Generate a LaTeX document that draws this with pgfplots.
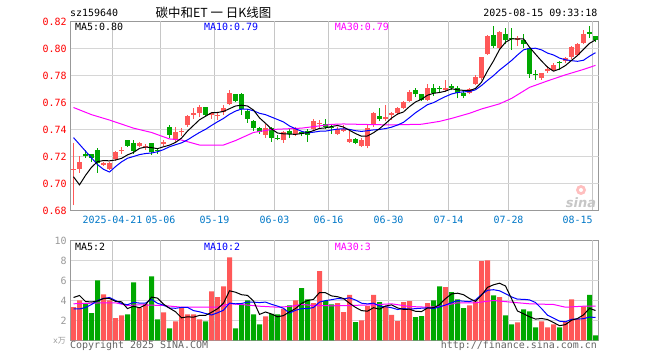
\documentclass[border=0pt]{standalone}
\usepackage{pgfplots}
\usepackage{pgfplotstable}
\pgfplotsset{compat=1.18}
\usepackage{fontspec}
\setmainfont{DejaVu Sans}
\setmonofont{DejaVu Sans Mono}
\newfontfamily\cjk{Noto Sans CJK SC}
\newcommand\tf{\ttfamily\fontsize{10}{12}\selectfont}
\definecolor{cred}{RGB}{255,88,88}
\definecolor{cgreen}{RGB}{0,168,0}
\definecolor{tickred}{RGB}{255,0,0}
\definecolor{tickblue}{RGB}{0,120,200}
\definecolor{bordergray}{RGB}{153,153,153}
\definecolor{vgridgray}{RGB}{198,198,198}
\definecolor{hgridgray}{RGB}{214,214,214}
\definecolor{ma10}{RGB}{0,0,255}
\definecolor{ma30}{RGB}{255,0,255}

% up (red) candles: x open high low close volume
\pgfplotstableread{
x o h l c v
0 0.710 0.730 0.684 0.711 3.33
1 0.711 0.720 0.708 0.716 4.00
5 0.714 0.716 0.713 0.715 4.60
6 0.711 0.716 0.710 0.715 4.00
7 0.718 0.724 0.717 0.723 2.23
8 0.724 0.727 0.722 0.725 2.50
11 0.728 0.731 0.727 0.730 3.23
12 0.727 0.729 0.725 0.728 3.67
15 0.729 0.732 0.728 0.731 2.80
17 0.733 0.742 0.731 0.738 1.90
18 0.738 0.741 0.735 0.739 3.33
19 0.743 0.751 0.742 0.750 2.60
20 0.751 0.756 0.748 0.752 2.60
21 0.752 0.758 0.749 0.757 2.10
23 0.751 0.753 0.748 0.752 4.90
24 0.750 0.752 0.747 0.751 4.33
25 0.753 0.758 0.751 0.756 5.40
26 0.759 0.769 0.758 0.767 8.30
32 0.736 0.744 0.734 0.741 2.40
35 0.732 0.739 0.730 0.738 3.17
37 0.737 0.742 0.735 0.740 4.00
40 0.740 0.748 0.739 0.746 3.73
41 0.744 0.747 0.741 0.745 6.93
44 0.737 0.742 0.736 0.740 3.73
45 0.739 0.743 0.738 0.740 2.83
46 0.731 0.739 0.730 0.733 4.57
48 0.728 0.734 0.727 0.732 2.00
49 0.728 0.743 0.726 0.741 3.43
50 0.744 0.753 0.742 0.752 4.57
52 0.748 0.758 0.746 0.749 3.40
53 0.751 0.753 0.747 0.752 2.57
54 0.752 0.757 0.751 0.756 1.93
55 0.756 0.761 0.755 0.760 3.83
56 0.761 0.769 0.760 0.768 3.93
59 0.762 0.774 0.761 0.771 3.73
62 0.769 0.777 0.768 0.771 5.33
66 0.767 0.771 0.766 0.770 3.50
67 0.774 0.780 0.773 0.779 3.90
68 0.778 0.794 0.777 0.794 7.93
69 0.796 0.810 0.795 0.809 8.00
71 0.800 0.813 0.799 0.812 4.33
74 0.806 0.809 0.802 0.808 1.80
78 0.778 0.782 0.777 0.782 1.90
79 0.783 0.787 0.782 0.785 1.30
80 0.784 0.789 0.783 0.788 1.60
82 0.791 0.794 0.789 0.793 1.83
83 0.794 0.802 0.792 0.801 4.10
84 0.795 0.804 0.795 0.803 2.17
85 0.804 0.814 0.803 0.811 3.40
}\up

% down (green) candles
\pgfplotstableread{
x o h l c v
2 0.722 0.725 0.719 0.720 3.67
3 0.722 0.722 0.716 0.719 2.73
4 0.725 0.726 0.708 0.715 6.00
9 0.732 0.732 0.727 0.728 2.60
10 0.730 0.732 0.722 0.724 5.80
13 0.730 0.730 0.721 0.723 6.40
14 0.725 0.726 0.722 0.724 2.10
16 0.742 0.743 0.734 0.736 1.20
22 0.757 0.757 0.750 0.751 1.90
27 0.766 0.766 0.760 0.761 1.20
28 0.766 0.767 0.751 0.755 3.67
29 0.754 0.755 0.745 0.748 4.00
30 0.746 0.747 0.739 0.741 2.60
31 0.741 0.742 0.737 0.738 1.60
33 0.741 0.742 0.731 0.734 2.67
34 0.734 0.736 0.732 0.733 2.60
36 0.739 0.740 0.734 0.737 3.50
38 0.738 0.739 0.735 0.737 5.23
39 0.739 0.740 0.731 0.736 4.10
42 0.744 0.748 0.740 0.742 3.93
43 0.742 0.743 0.737 0.741 3.60
47 0.733 0.734 0.729 0.730 1.83
51 0.750 0.756 0.746 0.748 3.83
57 0.769 0.771 0.764 0.766 2.33
58 0.766 0.766 0.761 0.762 2.43
60 0.771 0.774 0.765 0.767 4.00
61 0.771 0.772 0.768 0.770 5.40
63 0.772 0.774 0.769 0.771 4.83
64 0.771 0.772 0.763 0.767 4.10
65 0.767 0.769 0.763 0.765 3.23
70 0.810 0.817 0.800 0.802 4.50
72 0.811 0.815 0.803 0.806 2.50
73 0.808 0.815 0.799 0.807 1.60
75 0.806 0.811 0.800 0.803 3.10
76 0.800 0.801 0.778 0.781 2.90
77 0.781 0.784 0.777 0.780 1.30
81 0.790 0.791 0.784 0.789 1.30
86 0.812 0.817 0.808 0.811 4.57
87 0.809 0.809 0.805 0.806 0.50
}\dn

% price moving averages: x ma5 ma10
\pgfplotstableread{
x a b
0 0.7050 0.7340
1 0.6990 0.7290
2 0.7060 0.7240
3 0.7120 0.7190
4 0.7162 0.7140
5 0.7170 0.7105
6 0.7168 0.7085
7 0.7174 0.7125
8 0.7186 0.7160
9 0.7212 0.7187
10 0.7230 0.7200
11 0.7260 0.7214
12 0.7270 0.7222
13 0.7266 0.7226
14 0.7258 0.7235
15 0.7272 0.7251
16 0.7284 0.7272
17 0.7304 0.7287
18 0.7336 0.7301
19 0.7388 0.7323
20 0.7430 0.7351
21 0.7472 0.7378
22 0.7498 0.7401
23 0.7524 0.7430
24 0.7526 0.7457
25 0.7534 0.7482
26 0.7554 0.7513
27 0.7574 0.7536
28 0.7580 0.7552
29 0.7574 0.7550
30 0.7544 0.7539
31 0.7486 0.7520
32 0.7446 0.7510
33 0.7404 0.7492
34 0.7374 0.7474
35 0.7368 0.7456
36 0.7366 0.7426
37 0.7364 0.7405
38 0.7370 0.7387
39 0.7376 0.7375
40 0.7392 0.7380
41 0.7408 0.7387
42 0.7412 0.7388
43 0.7422 0.7396
44 0.7430 0.7403
45 0.7418 0.7405
46 0.7394 0.7401
47 0.7370 0.7391
48 0.7350 0.7386
49 0.7352 0.7391
50 0.7376 0.7397
51 0.7406 0.7400
52 0.7444 0.7407
53 0.7484 0.7417
54 0.7514 0.7433
55 0.7530 0.7453
56 0.7570 0.7488
57 0.7604 0.7524
58 0.7624 0.7554
59 0.7654 0.7584
60 0.7668 0.7599
61 0.7674 0.7622
62 0.7684 0.7644
63 0.7702 0.7663
64 0.7694 0.7674
65 0.7690 0.7679
66 0.7688 0.7681
67 0.7704 0.7694
68 0.7750 0.7726
69 0.7834 0.7764
70 0.7908 0.7799
71 0.7992 0.7840
72 0.8046 0.7875
73 0.8072 0.7911
74 0.8070 0.7952
75 0.8072 0.7990
76 0.8010 0.8001
77 0.7958 0.8002
78 0.7908 0.7990
79 0.7862 0.7966
80 0.7832 0.7952
81 0.7848 0.7929
82 0.7874 0.7916
83 0.7912 0.7910
84 0.7948 0.7905
85 0.7994 0.7913
86 0.8038 0.7943
87 0.8064 0.7969
}\pma

\pgfplotstableread{
x y
0 0.7563
3 0.7510
6 0.7470
10 0.7410
13 0.7378
16 0.7330
18 0.7322
21 0.7285
25 0.7285
27 0.7318
30 0.7378
33 0.7400
38 0.7410
43 0.7438
45 0.7441
50 0.7436
53 0.7434
58 0.7439
61 0.7460
63 0.7482
66 0.7520
68 0.7552
71 0.7590
73 0.7630
76 0.7712
79 0.7760
82 0.7805
85 0.7845
87 0.7875
}\pmathirty

% volume moving averages: x ma5 ma10
\pgfplotstableread{
x a b
0 4.30 3.15
1 4.50 3.15
2 3.90 3.30
3 3.85 3.60
4 3.95 4.00
5 4.20 4.20
6 4.20 4.30
7 3.91 4.00
8 3.87 3.70
9 3.19 3.57
10 3.43 3.82
11 3.27 3.74
12 3.56 3.74
13 4.34 4.11
14 4.24 3.72
15 3.64 3.54
16 3.23 3.25
17 2.88 3.22
18 2.27 3.31
19 2.37 3.31
20 2.33 2.99
21 2.51 2.87
22 2.51 2.70
23 2.82 2.55
24 3.17 2.77
25 3.73 3.03
26 4.97 3.74
27 4.83 3.67
28 4.58 3.70
29 4.51 3.84
30 3.95 3.84
31 2.61 3.79
32 2.85 3.84
33 2.65 3.62
34 2.37 3.44
35 2.49 3.22
36 2.87 2.74
37 3.19 3.02
38 3.70 3.18
39 4.00 3.19
40 4.11 3.30
41 4.80 3.84
42 4.78 3.99
43 4.46 4.08
44 4.38 4.19
45 4.20 4.16
46 3.73 4.27
47 3.31 4.05
48 2.99 3.73
49 2.93 3.66
50 3.28 3.74
51 3.13 3.43
52 3.45 3.38
53 3.56 3.28
54 3.26 3.10
55 3.11 3.20
56 3.13 3.13
57 2.92 3.19
58 2.89 3.23
59 3.25 3.26
60 3.28 3.20
61 3.58 3.36
62 4.18 3.55
63 4.66 3.78
64 4.73 3.99
65 4.58 3.93
66 4.20 3.89
67 3.91 4.05
68 4.53 4.60
69 5.31 5.02
70 5.57 5.08
71 5.73 4.97
72 5.45 4.68
73 4.19 4.36
74 2.95 4.13
75 2.67 4.12
76 2.38 4.06
77 2.14 3.80
78 2.20 3.20
79 2.10 2.53
80 1.80 2.24
81 1.48 1.93
82 1.59 1.87
83 2.03 2.12
84 2.20 2.15
85 2.56 2.18
86 3.21 2.35
87 3.00 2.30
}\vma

\pgfplotstableread{
x y
0 3.67
5 3.77
7 3.77
9 3.50
11 3.57
15 3.50
18 3.33
21 3.33
24 3.33
26 3.67
28 3.60
31 3.43
34 3.33
36 3.40
38 3.60
40 3.50
43 3.47
46 3.50
50 3.57
53 3.67
56 3.40
59 3.33
61 3.40
64 3.77
67 3.77
70 4.00
73 3.83
76 3.67
80 3.60
82 3.33
85 3.43
87 3.43
}\vmathirty

\pgfplotsset{
  kbase/.style={
    scale only axis, width=528bp,
    xmin=-0.5, xmax=87.5,
    axis line style={draw=bordergray, line width=1bp},
    tick style={draw=none},
    xtick={6.5,14.5,23.5,33.5,42.5,52.5,62.5,72.5,86.5},
    tick label style={font=\tf},
    yticklabel style={anchor=east, inner sep=0pt, xshift=-3.8bp},
    xticklabel style={anchor=north, inner sep=0pt, yshift=-5.5bp, text=tickblue},
    clip=true,
  },
  vgrid/.style={forget plot, color=vgridgray, line width=1bp, solid, mark=none},
  hgrid/.style={forget plot, color=hgridgray, line width=1bp, solid, mark=none},
  wick/.style={draw=none, mark=none, forget plot,
    error bars/.cd, y dir=plus, y explicit, error mark=none,
    error bar style={draw=#1, solid, line width=1bp}},
  body/.style={draw=none, mark=none, forget plot,
    error bars/.cd, y dir=plus, y explicit, error mark=none,
    error bar style={draw=#1, solid, line width=5bp}},
}

\begin{document}
\begin{tikzpicture}
\fill[white] (0bp,0bp) rectangle (660bp,360bp);

% ---------------- price panel ----------------
\begin{axis}[kbase,
  at={(70.5bp,149.5bp)}, anchor=south west, height=189bp,
  ymin=0.68, ymax=0.82,
  ytick={0.68,0.70,0.72,0.74,0.76,0.78,0.80,0.82},
  yticklabels={0.68,0.70,0.72,0.74,0.76,0.78,0.80,0.82},
  yticklabel style={text=tickred},
  xticklabels={2025-04-21,05-06,05-19,06-03,06-16,06-30,07-14,07-28,\makebox[0pt][r]{08-15}},
]
\pgfplotsinvokeforeach{6.5,14.5,23.5,33.5,42.5,52.5,62.5,72.5,86.5}{
  \addplot[vgrid] coordinates {(#1,0.68) (#1,0.82)};
}
\pgfplotsinvokeforeach{0.70,0.72,0.74,0.76,0.78,0.80}{
  \addplot[hgrid] coordinates {(-0.5,#1) (87.5,#1)};
}
\addplot[wick=cred] table[x=x, y=l, y error plus expr=\thisrow{h}-\thisrow{l}] {\up};
\addplot[body=cred] table[x=x, y=o, y error plus expr=\thisrow{c}-\thisrow{o}] {\up};
\addplot[wick=cgreen] table[x=x, y=l, y error plus expr=\thisrow{h}-\thisrow{l}] {\dn};
\addplot[body=cgreen] table[x=x, y=c, y error plus expr=\thisrow{o}-\thisrow{c}] {\dn};
\addplot[ma30, line width=1bp, mark=none] table[x=x, y=y] {\pmathirty};
\addplot[ma10, line width=1bp, mark=none] table[x=x, y=b] {\pma};
\addplot[black, line width=1bp, mark=none] table[x=x, y=a] {\pma};
\end{axis}

% ---------------- volume panel ----------------
\begin{axis}[kbase,
  at={(70.5bp,19.5bp)}, anchor=south west, height=100bp,
  ymin=0, ymax=10,
  ytick={2,4,6,8,10},
  yticklabels={2,4,6,8,10},
  yticklabel style={text=bordergray},
  xticklabels={},
]
\pgfplotsinvokeforeach{6.5,14.5,23.5,33.5,42.5,52.5,62.5,72.5,86.5}{
  \addplot[vgrid] coordinates {(#1,0) (#1,10)};
}
\pgfplotsinvokeforeach{2,4,6,8}{
  \addplot[hgrid] coordinates {(-0.5,#1) (87.5,#1)};
}
\addplot[ybar, bar width=5bp, bar shift=0pt, fill=cred, draw=none] table[x=x, y=v] {\up};
\addplot[ybar, bar width=5bp, bar shift=0pt, fill=cgreen, draw=none] table[x=x, y=v] {\dn};
\addplot[ma30, line width=1bp, mark=none] table[x=x, y=y] {\vmathirty};
\addplot[ma10, line width=1bp, mark=none] table[x=x, y=b] {\vma};
\addplot[black, line width=1bp, mark=none] table[x=x, y=a] {\vma};
\end{axis}

% ---------------- texts ----------------
\node[anchor=base west, inner sep=0] at (70bp,343.5bp) {\tf sz159640};
\node[anchor=center, inner sep=0] at (213.5bp,347.5bp) {\cjk\fontsize{12.5}{14}\selectfont 碳中和ET 一 日K线图};
\node[anchor=base east, inner sep=0] at (597.5bp,343.5bp) {\tf 2025-08-15 09:33:18};

\node[anchor=west, inner sep=0] at (75bp,333.3bp) {\tf MA5:0.80};
\node[anchor=west, inner sep=0, text=ma10] at (204bp,333.3bp) {\tf MA10:0.79};
\node[anchor=west, inner sep=0, text=ma30] at (334.7bp,333.3bp) {\tf MA30:0.79};

\node[anchor=west, inner sep=0] at (75bp,113.5bp) {\tf MA5:2};
\node[anchor=west, inner sep=0, text=ma10] at (204bp,113.5bp) {\tf MA10:2};
\node[anchor=west, inner sep=0, text=ma30] at (334.7bp,113.5bp) {\tf MA30:3};

\node[anchor=east, inner sep=0, text=bordergray] at (66bp,19bp) {\fontsize{8}{10}\selectfont\ttfamily x\cjk 万};
\node[anchor=west, inner sep=0, text=black!60] at (70bp,14bp) {\tf Copyright 2025 SINA.COM};
\node[anchor=east, inner sep=0, text=black!60] at (597bp,14bp) {\tf http://finance.sina.com.cn};

% watermark
\fill[red!25] (581bp,170bp) circle (5bp);
\fill[white] (581bp,170bp) circle (2bp);
\node[anchor=center, inner sep=0, text=black!22] at (581bp,157bp) {\bfseries\itshape\fontsize{13}{14}\selectfont sina};
\end{tikzpicture}
\end{document}
